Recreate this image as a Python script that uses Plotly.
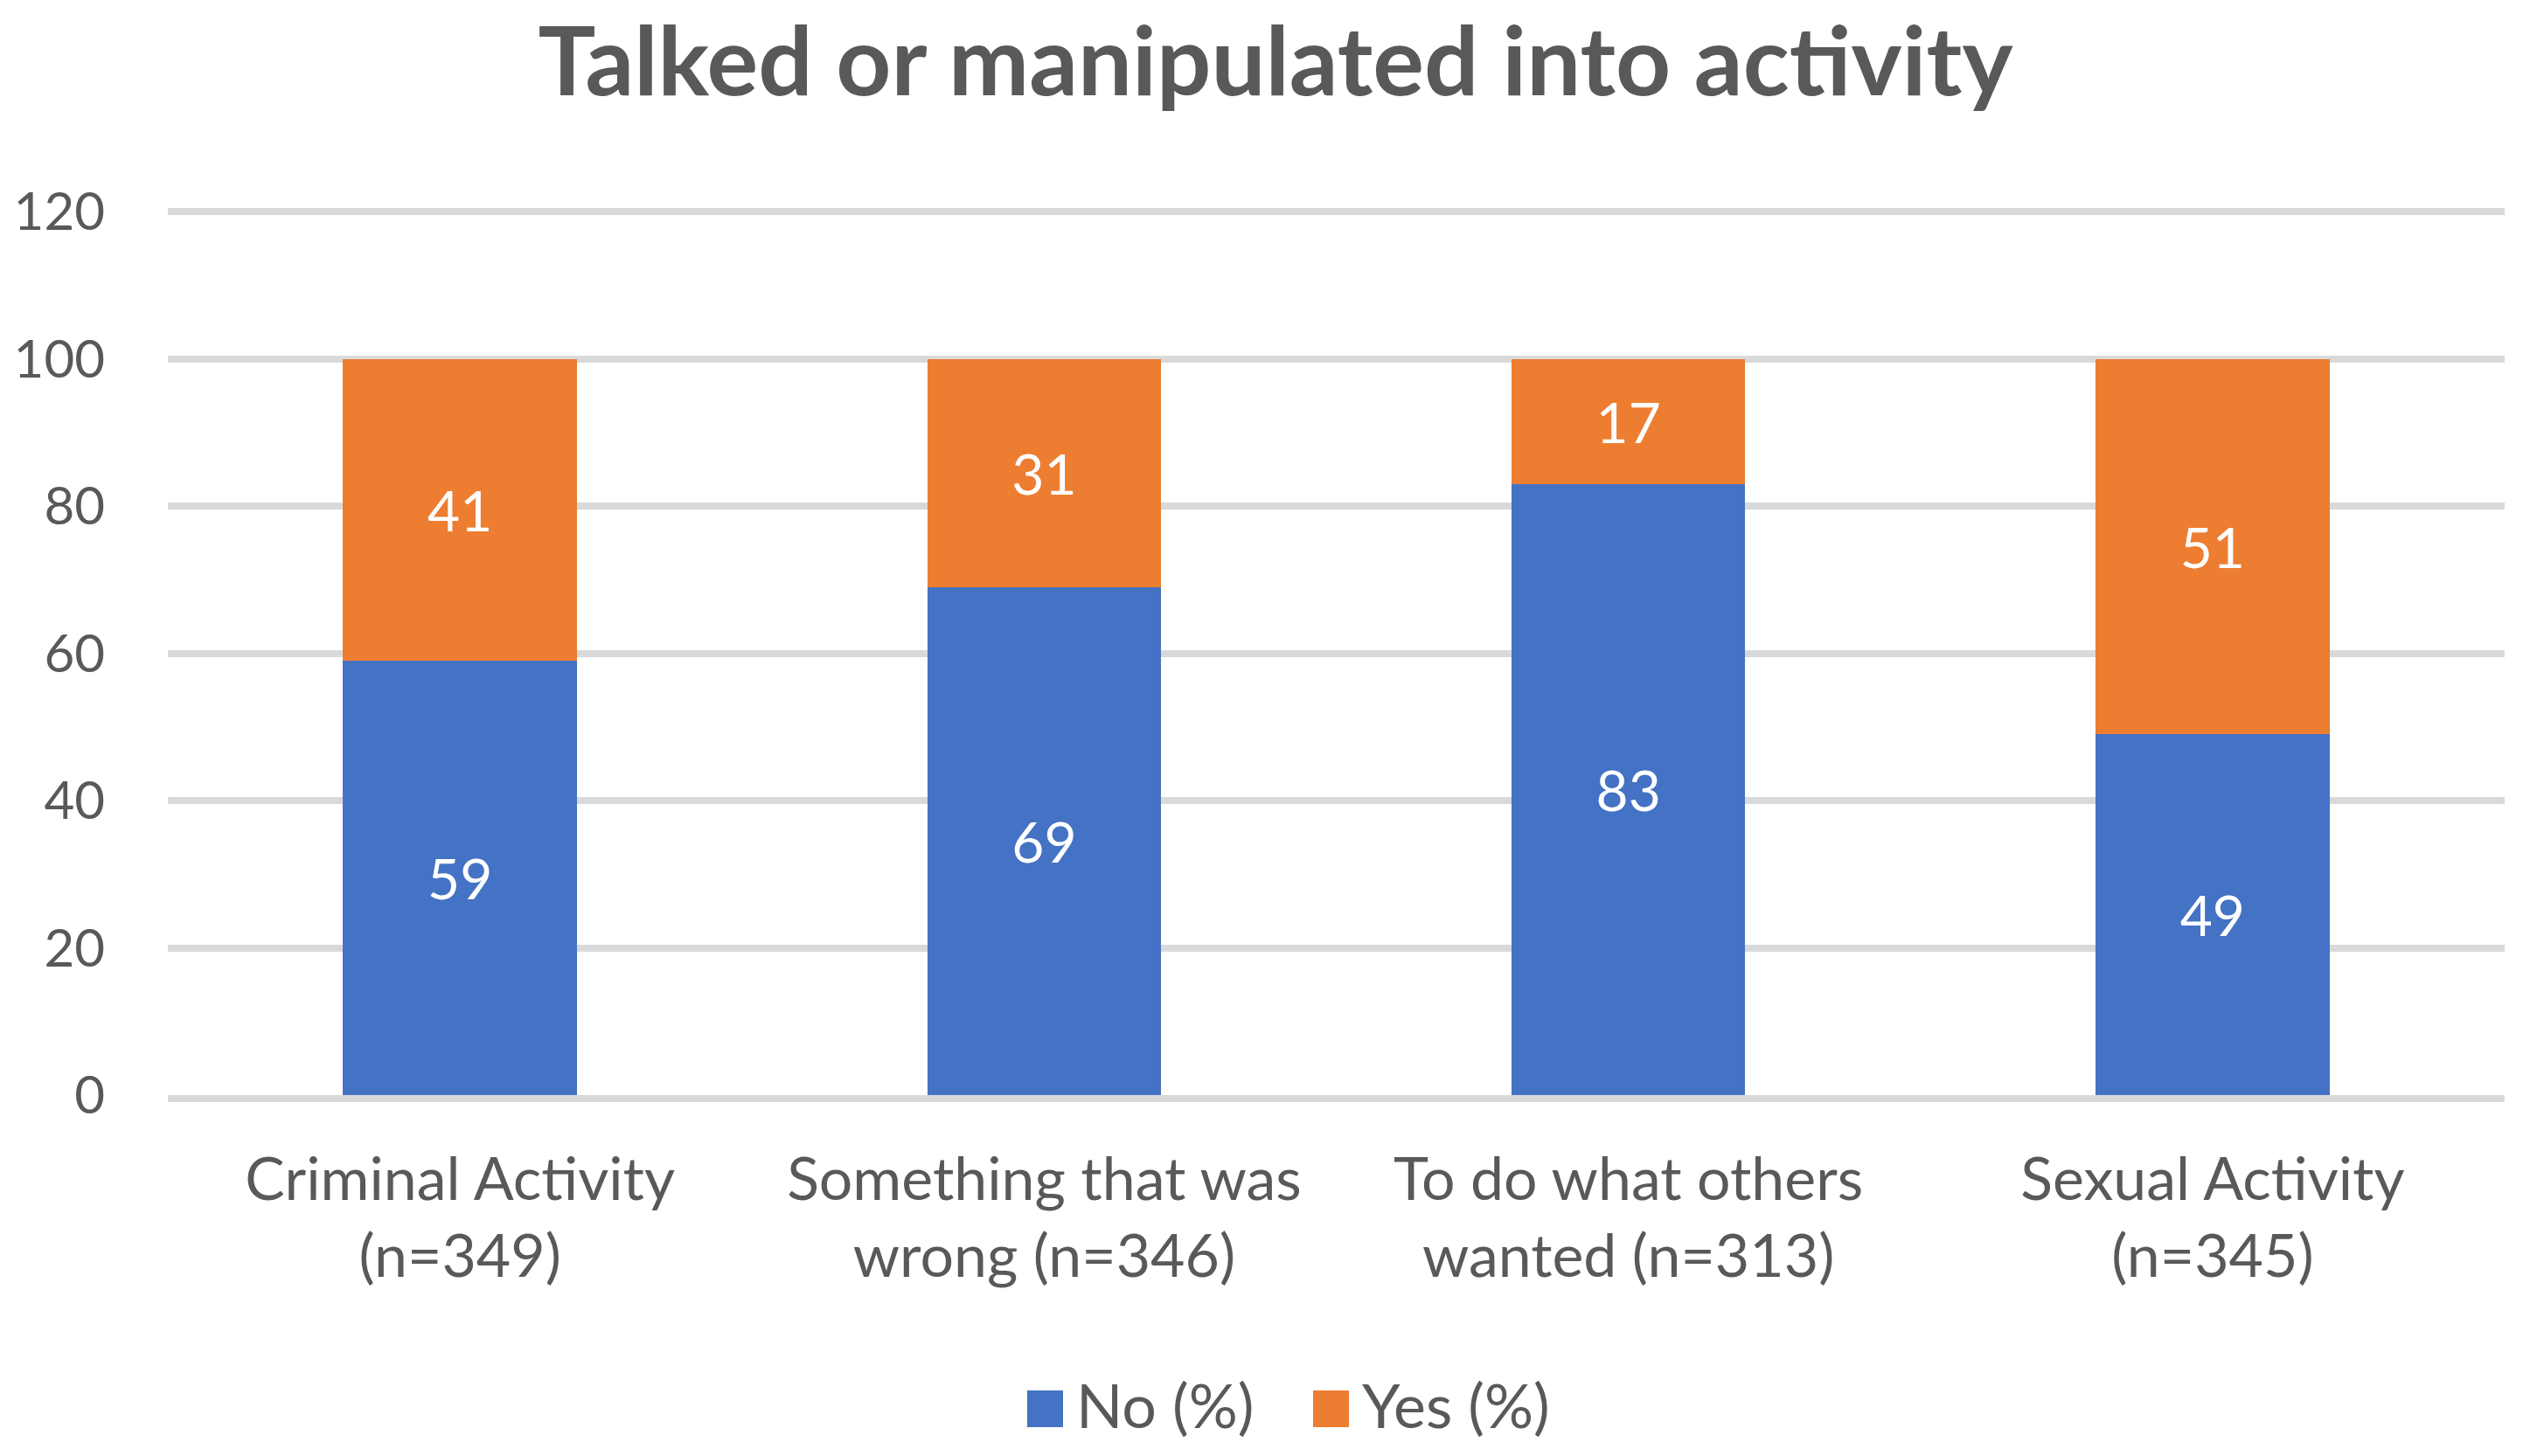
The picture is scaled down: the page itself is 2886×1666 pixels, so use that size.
import plotly.graph_objects as go

# ---- data ----
categories = ["Criminal Activity", "Something that was", "To do what others", "Sexual Activity"]
categories_line2 = ["(n=349)", "wrong (n=346)", "wanted (n=313)", "(n=345)"]
no_pct = [59, 69, 83, 49]
yes_pct = [41, 31, 17, 51]
series_names = ["No (%)", "Yes (%)"]
y_ticks = [0, 20, 40, 60, 80, 100, 120]

labels = [f"{a}<br>{b}" for a, b in zip(categories, categories_line2)]

BLUE = "#4472C4"
ORANGE = "#ED7D31"
GRID = "#D9D9D9"
TXT = "#595959"
FONT = "Lato"

W, H = 2886, 1666
L, R = 192, 2865
B = 1253
Y_TOP = 120.6
T = 237

fig = go.Figure()
fig.add_trace(go.Bar(x=labels, y=no_pct, name=series_names[0], marker=dict(color=BLUE, line=dict(width=0)),
                     text=no_pct, textposition="inside", insidetextanchor="middle", textangle=0,
                     textfont=dict(color="white", size=64, family=FONT), showlegend=False))
fig.add_trace(go.Bar(x=labels, y=yes_pct, name=series_names[1], marker=dict(color=ORANGE, line=dict(width=0)),
                     text=yes_pct, textposition="inside", insidetextanchor="middle", textangle=0,
                     textfont=dict(color="white", size=64, family=FONT), showlegend=False))

# manual legend (layout only)
def px_x(p):
    return (p - L) / (R - L)

def px_y(p):
    return (B - p) / (B - T)

legend_items = [(series_names[0], BLUE, 1175), (series_names[1], ORANGE, 1502)]
shapes = []
annotations = []
for name, col, x0 in legend_items:
    shapes.append(dict(type="rect", xref="paper", yref="paper",
                       x0=px_x(x0), x1=px_x(x0 + 41), y0=px_y(1633), y1=px_y(1591),
                       fillcolor=col, line=dict(width=0)))
    annotations.append(dict(text=name, xref="paper", yref="paper", x=px_x(x0 + 54), y=px_y(1607),
                            xanchor="left", yanchor="middle", showarrow=False,
                            font=dict(size=70, color=TXT, family=FONT)))

fig.update_layout(
    width=W, height=H,
    margin=dict(l=L, r=W - R, t=T, b=H - B, pad=0),
    paper_bgcolor="white", plot_bgcolor="white",
    barmode="stack", bargap=0.6,
    title=dict(text="<b>Talked or manipulated into activity</b>", x=1459 / W, xref="container", xanchor="center",
               y=1 - 70 / H, yref="container", yanchor="middle",
               font=dict(size=110, color=TXT, family=FONT)),
    font=dict(family=FONT, color=TXT),
    shapes=shapes,
    annotations=annotations,
    uniformtext=dict(mode=False),
)
fig.update_yaxes(range=[0, Y_TOP], tickvals=y_ticks, showgrid=True, gridcolor=GRID, gridwidth=8,
                 zeroline=False, showline=False, ticks="", ticklabelstandoff=71,
                 tickfont=dict(size=60, color=TXT, family=FONT))
fig.update_xaxes(showline=True, linecolor=GRID, linewidth=8, ticks="", ticklabelstandoff=30,
                 tickfont=dict(size=68, color=TXT, family=FONT), showgrid=False)

fig.write_html("out.html", config={"displayModeBar": False},
               post_script="document.body.style.margin='0';document.body.style.padding='0';"
                           "document.body.style.overflow='hidden';")
